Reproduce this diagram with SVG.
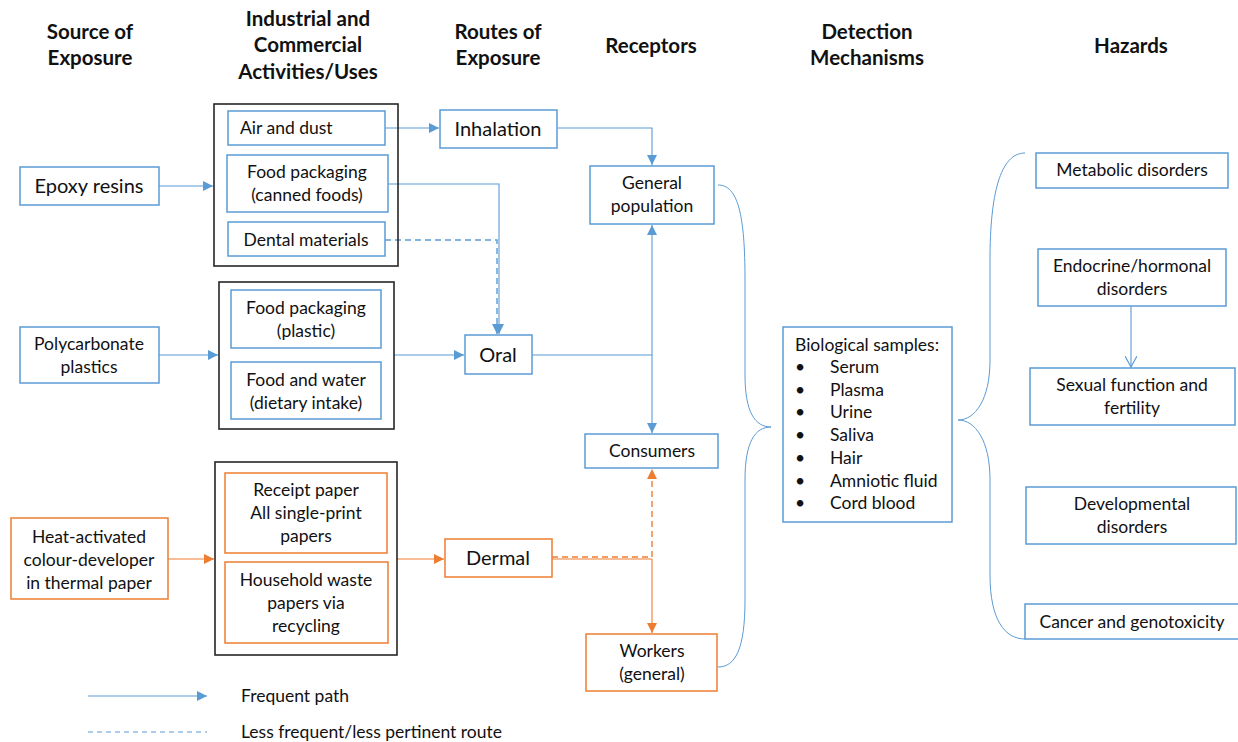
<svg xmlns="http://www.w3.org/2000/svg" width="1238" height="742" viewBox="0 0 1238 742">
<defs>
<style>
text{font-family:Lato,"Noto Sans","Liberation Sans",sans-serif;fill:#111;font-size:17.5px}
.h{font-weight:bold;font-size:20.5px;text-anchor:middle}
.c{text-anchor:middle}
.big{font-size:20px}
.bx{fill:#fff;stroke:#5B9BD5;stroke-width:1.5}
.ob{fill:#fff;stroke:#ED7D31;stroke-width:1.5}
.grp{fill:none;stroke:#262626;stroke-width:1.6}
.ln{fill:none;stroke:#5B9BD5;stroke-width:1.1}
.lo{fill:none;stroke:#ED7D31;stroke-width:1.1}
.dash{stroke-dasharray:6 4;stroke-width:1.4}
.brace{fill:none;stroke:#5B9BD5;stroke-width:1}
</style>
<marker id="ab" viewBox="0 0 10 10" refX="10" refY="5" markerWidth="10" markerHeight="10" markerUnits="userSpaceOnUse" orient="auto"><path d="M0,0 L10,5 L0,10 z" fill="#5B9BD5"/></marker>
<marker id="ao" viewBox="0 0 10 10" refX="10" refY="5" markerWidth="10" markerHeight="10" markerUnits="userSpaceOnUse" orient="auto"><path d="M0,0 L10,5 L0,10 z" fill="#ED7D31"/></marker>
<marker id="av" viewBox="0 0 12 12" refX="11" refY="6" markerWidth="12" markerHeight="12" markerUnits="userSpaceOnUse" orient="auto"><path d="M0,0 L11,6 L0,12" fill="none" stroke="#5B9BD5" stroke-width="1.2"/></marker>
</defs>
<rect width="1238" height="742" fill="#fff"/>

<g id="headers">
<text class="h" x="90" y="39">Source of</text><text class="h" x="90" y="65">Exposure</text>
<text class="h" x="308" y="26">Industrial and</text><text class="h" x="308" y="52">Commercial</text><text class="h" x="308" y="79">Activities/Uses</text>
<text class="h" x="498" y="39">Routes of</text><text class="h" x="498" y="65">Exposure</text>
<text class="h" x="651" y="53">Receptors</text>
<text class="h" x="867" y="39">Detection</text><text class="h" x="867" y="65">Mechanisms</text>
<text class="h" x="1131" y="53">Hazards</text>
</g>

<g id="connectors">
<path class="ln" d="M159,186 H213" marker-end="url(#ab)"/>
<path class="ln" d="M159,355 H218" marker-end="url(#ab)"/>
<path class="lo" d="M168,559 H214" marker-end="url(#ao)"/>
<path class="ln" d="M385,128 H439" marker-end="url(#ab)"/>
<path class="ln" d="M388,184 H499 V334" marker-end="url(#ab)"/>
<path class="ln dash" d="M385,240 H497 V334" marker-end="url(#ab)"/>
<path class="ln" d="M394,355 H464" marker-end="url(#ab)"/>
<path class="ln" d="M557,128 H652 V165" marker-end="url(#ab)"/>
<path class="ln" d="M532,355 H652"/>
<path class="ln" d="M652,355 V225" marker-end="url(#ab)"/>
<path class="ln" d="M652,355 V433" marker-end="url(#ab)"/>
<path class="lo" d="M397,559 H444" marker-end="url(#ao)"/>
<path class="lo" d="M552,559 H652" stroke-width="0.8"/>
<path class="lo dash" d="M552,557 H652 V469" marker-end="url(#ao)"/>
<path class="lo" d="M652,559 V633" marker-end="url(#ao)"/>
<path class="brace" d="M718,185 C738,185 745,215 745,280 L745,375 C745,412 755,427 771,427 C755,427 745,442 745,480 L745,600 C745,650 735,667 718,667"/>
<path class="brace" d="M1025,153 C1000,153 990,195 990,260 L990,360 C990,400 975,420 958,420 C975,420 990,440 990,480 L990,575 C990,620 1005,639 1025,639"/>
<path class="ln" d="M1131,306 V367" marker-end="url(#av)"/>
</g>

<g id="epoxy"><rect class="bx" x="20" y="167" width="139" height="38"/><text class="c big" x="89" y="193">Epoxy resins</text></g>
<g id="polycarbonate"><rect class="bx" x="20" y="327" width="139" height="56"/><text class="c" x="89" y="350">Polycarbonate</text><text class="c" x="89" y="373">plastics</text></g>
<g id="thermal"><rect class="ob" x="11" y="518" width="157" height="81"/><text class="c" x="89" y="543">Heat-activated</text><text class="c" x="89" y="566">colour-developer</text><text class="c" x="89" y="589">in thermal paper</text></g>

<g id="group1"><rect class="grp" x="214" y="104" width="184" height="162"/></g>
<g id="air"><rect class="bx" x="228" y="111" width="157" height="34"/><text x="240" y="134">Air and dust</text></g>
<g id="canned"><rect class="bx" x="227" y="155" width="161" height="57"/><text class="c" x="307" y="178">Food packaging</text><text class="c" x="307" y="201">(canned foods)</text></g>
<g id="dental"><rect class="bx" x="228" y="222" width="157" height="34"/><text class="c" x="306" y="246">Dental materials</text></g>

<g id="group2"><rect class="grp" x="219" y="282" width="175" height="147"/></g>
<g id="plastic"><rect class="bx" x="231" y="290" width="150" height="58"/><text class="c" x="306" y="314">Food packaging</text><text class="c" x="306" y="337">(plastic)</text></g>
<g id="dietary"><rect class="bx" x="231" y="362" width="150" height="57"/><text class="c" x="306" y="386">Food and water</text><text class="c" x="306" y="409">(dietary intake)</text></g>

<g id="group3"><rect class="grp" x="215" y="462" width="182" height="193"/></g>
<g id="receipt"><rect class="ob" x="225" y="473" width="162" height="80"/><text class="c" x="306" y="496">Receipt paper</text><text class="c" x="306" y="519">All single-print</text><text class="c" x="306" y="542">papers</text></g>
<g id="household"><rect class="ob" x="225" y="562" width="163" height="81"/><text class="c" x="306" y="586">Household waste</text><text class="c" x="306" y="609">papers via</text><text class="c" x="306" y="632">recycling</text></g>

<g id="inhalation"><rect class="bx" x="440" y="110" width="117" height="38"/><text class="c big" x="498" y="136">Inhalation</text></g>
<g id="oral"><rect class="bx" x="465" y="335" width="67" height="39"/><text class="c big" x="498" y="362">Oral</text></g>
<g id="dermal"><rect class="ob" x="445" y="539" width="107" height="38"/><text class="c big" x="498" y="565">Dermal</text></g>

<g id="general"><rect class="bx" x="590" y="166" width="124" height="58"/><text class="c" x="652" y="189">General</text><text class="c" x="652" y="212">population</text></g>
<g id="consumers"><rect class="bx" x="585" y="434" width="133" height="34"/><text class="c" x="652" y="457">Consumers</text></g>
<g id="workers"><rect class="ob" x="586" y="634" width="131" height="57"/><text class="c" x="652" y="657">Workers</text><text class="c" x="652" y="680">(general)</text></g>

<g id="biological"><rect class="bx" x="783" y="327" width="169" height="195"/>
<text x="795" y="351">Biological samples:</text>
<text x="795" y="373">•</text><text x="830" y="373">Serum</text>
<text x="795" y="396">•</text><text x="830" y="396">Plasma</text>
<text x="795" y="418">•</text><text x="830" y="418">Urine</text>
<text x="795" y="441">•</text><text x="830" y="441">Saliva</text>
<text x="795" y="464">•</text><text x="830" y="464">Hair</text>
<text x="795" y="487">•</text><text x="830" y="487">Amniotic fluid</text>
<text x="795" y="509">•</text><text x="830" y="509">Cord blood</text>
</g>

<g id="metabolic"><rect class="bx" x="1036" y="153" width="192" height="35"/><text class="c" x="1132" y="176">Metabolic disorders</text></g>
<g id="endocrine"><rect class="bx" x="1038" y="249" width="188" height="57"/><text class="c" x="1132" y="272">Endocrine/hormonal</text><text class="c" x="1132" y="295">disorders</text></g>
<g id="sexual"><rect class="bx" x="1030" y="368" width="205" height="57"/><text class="c" x="1132" y="391">Sexual function and</text><text class="c" x="1132" y="414">fertility</text></g>
<g id="developmental"><rect class="bx" x="1026" y="487" width="210" height="57"/><text class="c" x="1132" y="510">Developmental</text><text class="c" x="1132" y="533">disorders</text></g>
<g id="cancer"><rect class="bx" x="1025" y="604" width="215" height="35"/><text class="c" x="1132" y="628">Cancer and genotoxicity</text></g>

<g id="legend">
<path class="ln" d="M88,696 H207" marker-end="url(#ab)"/>
<text x="241" y="702">Frequent path</text>
<path class="ln" d="M88,732 H207" stroke-dasharray="5 4"/>
<text x="241" y="738">Less frequent/less pertinent route</text>
</g>
</svg>
